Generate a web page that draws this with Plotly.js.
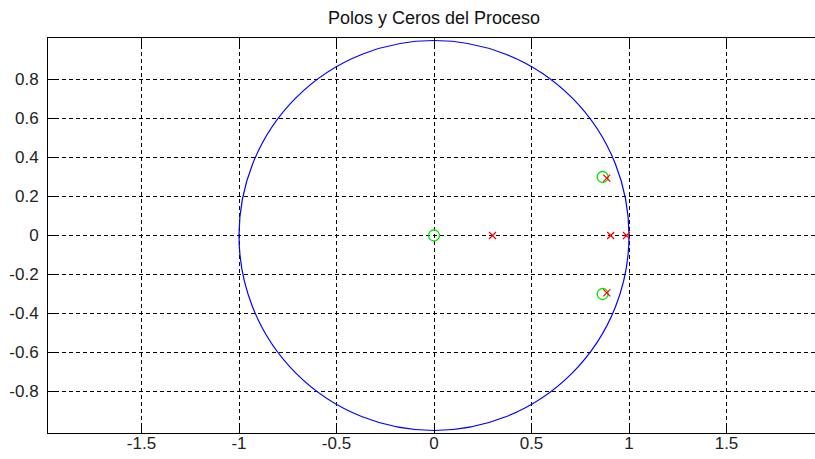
<!DOCTYPE html>
<html>
<head>
<meta charset="utf-8">
<script src="https://cdn.plot.ly/plotly-3.0.1.min.js"></script>
<style>
html,body{margin:0;padding:0;overflow:hidden;background:#fff;}
#chart{width:822px;height:459px;}
</style>
</head>
<body>
<div id="chart"></div>
<script>
// Data
var chartTitle = "Polos y Ceros del Proceso";
var zerosRe = [0, 0.865, 0.865];
var zerosIm = [0, 0.30, -0.30];
var polesRe = [0.30, 0.906, 0.987, 0.886, 0.886];
var polesIm = [0, 0, 0, 0.294, -0.294];
var unitCircleRadius = 1;
var xTickVals = [-1.5, -1, -0.5, 0, 0.5, 1, 1.5];
var xTickText = ["-1.5", "-1", "-0.5", "0", "0.5", "1", "1.5"];
var yTickVals = [-0.8, -0.6, -0.4, -0.2, 0, 0.2, 0.4, 0.6, 0.8];
var yTickText = ["-0.8", "-0.6", "-0.4", "-0.2", "0", "0.2", "0.4", "0.6", "0.8"];

var traces = [
  {
    x: zerosRe, y: zerosIm, type: 'scatter', mode: 'markers', name: 'Ceros',
    marker: {symbol: 'circle-open', size: 11, color: '#00e600', line: {width: 1.3, color: '#00e600'}},
    hoverinfo: 'x+y'
  },
  {
    x: polesRe, y: polesIm, type: 'scatter', mode: 'markers', name: 'Polos',
    marker: {symbol: 'x-thin-open', size: 7, color: '#ff0000', line: {width: 1.2, color: '#ff0000'}},
    hoverinfo: 'x+y'
  }
];

var axisCommon = {
  showline: true, linecolor: '#000', linewidth: 1, mirror: 'ticks',
  ticks: 'inside', ticklen: 7, tickcolor: '#000', tickwidth: 1,
  showgrid: true, gridcolor: '#000', gridwidth: 1, griddash: '4px,3px',
  zeroline: false, tickmode: 'array',
  tickfont: {family: 'Liberation Sans, Arial, sans-serif', size: 17, color: '#222'}
};

var layout = {
  width: 822, height: 459,
  margin: {l: 48, r: 2, t: 38, b: 26, pad: 0},
  paper_bgcolor: '#fff', plot_bgcolor: '#fff',
  showlegend: false,
  title: {
    text: chartTitle, x: 0.5, xref: 'paper', xanchor: 'center',
    y: 1 - 18 / 459, yref: 'container', yanchor: 'middle',
    font: {family: 'Liberation Sans, Arial, sans-serif', size: 18, color: '#111'}
  },
  xaxis: Object.assign({}, axisCommon, {
    range: [-1.9795, 1.9795], tickvals: xTickVals, ticktext: xTickText,
    ticklabelstandoff: -5
  }),
  yaxis: Object.assign({}, axisCommon, {
    range: [-1.0128, 1.0128], tickvals: yTickVals, ticktext: yTickText,
    ticklabelstandoff: 5
  }),
  shapes: [{
    type: 'circle', xref: 'x', yref: 'y', layer: 'between',
    x0: -unitCircleRadius, y0: -unitCircleRadius, x1: unitCircleRadius, y1: unitCircleRadius,
    line: {color: '#0000ff', width: 1.2}
  }]
};

Plotly.newPlot('chart', traces, layout, {displayModeBar: false, staticPlot: true});
</script>
</body>
</html>
